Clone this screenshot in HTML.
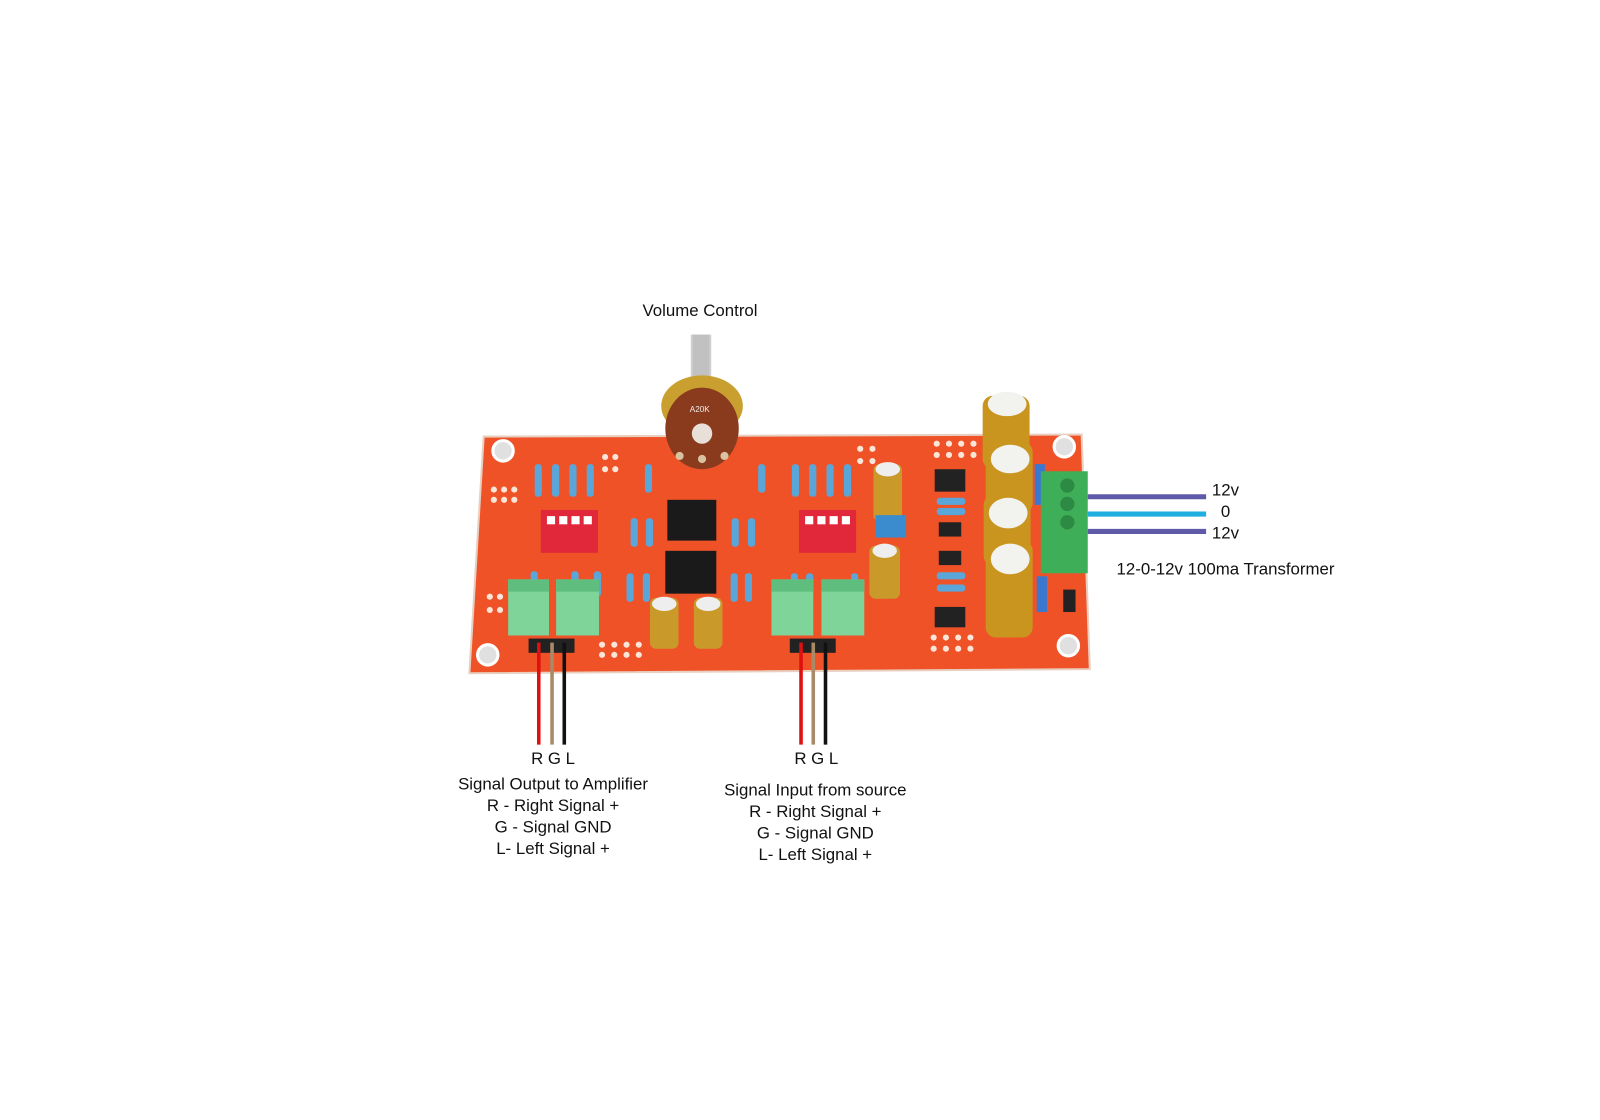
<!DOCTYPE html>
<html><head><meta charset="utf-8"><style>
html,body{margin:0;padding:0;background:#fff;}
svg{display:block;}
text{font-family:"Liberation Sans",sans-serif;fill:#111;}
</style></head><body>
<svg width="1600" height="1120" viewBox="0 0 1568 1098" preserveAspectRatio="none" xmlns="http://www.w3.org/2000/svg">
<rect width="1568" height="1098" fill="#fff"/>
<polygon points="474,428 1060,426 1068,656 460,660" fill="#f05228"/>
<polygon points="474,428 1060,426 1068,656 460,660" fill="none" stroke="#e8cfc0" stroke-width="2"/>
<g fill="#e0e0e0" stroke="#fff" stroke-width="3">
<circle cx="493" cy="442" r="10"/><circle cx="1043" cy="438" r="10"/>
<circle cx="478" cy="642" r="10"/><circle cx="1047" cy="633" r="10"/>
</g>
<g fill="#fbe5d8">
<circle cx="484" cy="480" r="3"/><circle cx="494" cy="480" r="3"/><circle cx="504" cy="480" r="3"/>
<circle cx="484" cy="490" r="3"/><circle cx="494" cy="490" r="3"/><circle cx="504" cy="490" r="3"/>
<circle cx="480" cy="585" r="3"/><circle cx="490" cy="585" r="3"/><circle cx="480" cy="598" r="3"/><circle cx="490" cy="598" r="3"/>
<circle cx="590" cy="632" r="3"/><circle cx="602" cy="632" r="3"/><circle cx="614" cy="632" r="3"/><circle cx="626" cy="632" r="3"/>
<circle cx="590" cy="642" r="3"/><circle cx="602" cy="642" r="3"/><circle cx="614" cy="642" r="3"/><circle cx="626" cy="642" r="3"/>
<circle cx="593" cy="448" r="3"/><circle cx="603" cy="448" r="3"/><circle cx="593" cy="460" r="3"/><circle cx="603" cy="460" r="3"/>
<circle cx="918" cy="435" r="3"/><circle cx="930" cy="435" r="3"/><circle cx="942" cy="435" r="3"/><circle cx="954" cy="435" r="3"/>
<circle cx="918" cy="446" r="3"/><circle cx="930" cy="446" r="3"/><circle cx="942" cy="446" r="3"/><circle cx="954" cy="446" r="3"/>
<circle cx="915" cy="625" r="3"/><circle cx="927" cy="625" r="3"/><circle cx="939" cy="625" r="3"/><circle cx="951" cy="625" r="3"/>
<circle cx="915" cy="636" r="3"/><circle cx="927" cy="636" r="3"/><circle cx="939" cy="636" r="3"/><circle cx="951" cy="636" r="3"/>
<circle cx="843" cy="440" r="3"/><circle cx="855" cy="440" r="3"/><circle cx="843" cy="452" r="3"/><circle cx="855" cy="452" r="3"/>
</g>
<g fill="#5aa6d8">
<rect x="524" y="455" width="7" height="32" rx="3"/><rect x="541" y="455" width="7" height="32" rx="3"/><rect x="558" y="455" width="7" height="32" rx="3"/><rect x="575" y="455" width="7" height="32" rx="3"/>
<rect x="776" y="455" width="7" height="32" rx="3"/><rect x="793" y="455" width="7" height="32" rx="3"/><rect x="810" y="455" width="7" height="32" rx="3"/><rect x="827" y="455" width="7" height="32" rx="3"/>
<rect x="632" y="455" width="7" height="28" rx="3"/><rect x="743" y="455" width="7" height="28" rx="3"/>
<rect x="618" y="508" width="7" height="28" rx="3"/><rect x="633" y="508" width="7" height="28" rx="3"/><rect x="717" y="508" width="7" height="28" rx="3"/><rect x="733" y="508" width="7" height="28" rx="3"/>
<rect x="614" y="562" width="7" height="28" rx="3"/><rect x="630" y="562" width="7" height="28" rx="3"/><rect x="716" y="562" width="7" height="28" rx="3"/><rect x="730" y="562" width="7" height="28" rx="3"/>
<rect x="520" y="560" width="7" height="25" rx="3"/><rect x="560" y="560" width="7" height="25" rx="3"/><rect x="582" y="560" width="7" height="25" rx="3"/>
<rect x="775" y="562" width="7" height="25" rx="3"/><rect x="790" y="562" width="7" height="25" rx="3"/><rect x="834" y="562" width="7" height="25" rx="3"/>
<rect x="918" y="488" width="28" height="7" rx="3"/><rect x="918" y="498" width="28" height="7" rx="3"/>
<rect x="918" y="561" width="28" height="7" rx="3"/><rect x="918" y="573" width="28" height="7" rx="3"/>
</g>
<rect x="530" y="500" width="56" height="42" fill="#e0283a"/>
<rect x="783" y="500" width="56" height="42" fill="#e0283a"/>
<g fill="#fff"><rect x="536" y="506" width="8" height="8"/><rect x="548" y="506" width="8" height="8"/><rect x="560" y="506" width="8" height="8"/><rect x="572" y="506" width="8" height="8"/>
<rect x="789" y="506" width="8" height="8"/><rect x="801" y="506" width="8" height="8"/><rect x="813" y="506" width="8" height="8"/><rect x="825" y="506" width="8" height="8"/></g>
<rect x="654" y="490" width="48" height="40" fill="#1a1a1a"/>
<rect x="652" y="540" width="50" height="42" fill="#1a1a1a"/>
<g fill="#c99a2a"><rect x="637" y="586" width="28" height="50" rx="6"/><rect x="680" y="586" width="28" height="50" rx="6"/>
<rect x="856" y="455" width="28" height="56" rx="6"/><rect x="852" y="535" width="30" height="52" rx="6"/></g>
<g fill="#eee"><ellipse cx="651" cy="592" rx="12" ry="7"/><ellipse cx="694" cy="592" rx="12" ry="7"/><ellipse cx="870" cy="460" rx="12" ry="7"/><ellipse cx="867" cy="540" rx="12" ry="7"/></g>
<rect x="858" y="505" width="30" height="22" fill="#3a8ccf"/>
<g fill="#222"><rect x="916" y="460" width="30" height="22"/><rect x="920" y="512" width="22" height="14"/><rect x="920" y="540" width="22" height="14"/><rect x="916" y="595" width="30" height="20"/></g>
<g fill="#c9951f"><rect x="963" y="388" width="46" height="72" rx="10"/><rect x="966" y="433" width="46" height="70" rx="10"/><rect x="964" y="485" width="46" height="70" rx="10"/><rect x="966" y="530" width="46" height="95" rx="10"/></g>
<g fill="#f2f2ee"><ellipse cx="987" cy="396" rx="19" ry="12"/><ellipse cx="990" cy="450" rx="19" ry="14"/><ellipse cx="988" cy="503" rx="19" ry="15"/><ellipse cx="990" cy="548" rx="19" ry="15"/></g>
<rect x="1014" y="455" width="10" height="40" fill="#3a78d0"/><rect x="1016" y="565" width="10" height="35" fill="#3a78d0"/>
<rect x="1020" y="462" width="46" height="100" fill="#3fae58"/>
<g fill="#2d8a44"><circle cx="1046" cy="476" r="7"/><circle cx="1046" cy="494" r="7"/><circle cx="1046" cy="512" r="7"/></g>
<rect x="1042" y="578" width="12" height="22" fill="#222"/>
<g fill="#7fd49a"><rect x="498" y="568" width="40" height="55"/><rect x="545" y="568" width="42" height="55"/><rect x="756" y="568" width="41" height="55"/><rect x="805" y="568" width="42" height="55"/></g>
<g fill="#5fbe7e"><rect x="498" y="568" width="40" height="12"/><rect x="545" y="568" width="42" height="12"/><rect x="756" y="568" width="41" height="12"/><rect x="805" y="568" width="42" height="12"/></g>
<rect x="518" y="626" width="45" height="14" fill="#222"/><rect x="774" y="626" width="45" height="14" fill="#222"/>
<rect x="677" y="328" width="20" height="48" fill="#cfcfcf"/>
<rect x="679" y="328" width="16" height="48" fill="#b7b7b7" opacity=".6"/>
<ellipse cx="688" cy="398" rx="40" ry="30" fill="#c9a030"/>
<ellipse cx="688" cy="420" rx="36" ry="40" fill="#8a3b1e"/>
<circle cx="688" cy="425" r="10" fill="#e8e0d8"/>
<g fill="#d9c2a0"><circle cx="666" cy="447" r="4"/><circle cx="688" cy="450" r="4"/><circle cx="710" cy="447" r="4"/></g>
<text x="676" y="404" font-size="8" style="fill:#eee">A20K</text>
<g stroke-width="3.5">
<line x1="528" y1="630" x2="528" y2="730" stroke="#e01010"/>
<line x1="541" y1="630" x2="541" y2="730" stroke="#a88a68"/>
<line x1="553" y1="630" x2="553" y2="730" stroke="#111"/>
<line x1="785" y1="630" x2="785" y2="730" stroke="#e01010"/>
<line x1="797" y1="630" x2="797" y2="730" stroke="#a88a68"/>
<line x1="809" y1="630" x2="809" y2="730" stroke="#111"/>
</g>
<g stroke-width="5">
<line x1="1066" y1="487" x2="1182" y2="487" stroke="#5e5aa8"/>
<line x1="1066" y1="504" x2="1182" y2="504" stroke="#1eaee0"/>
<line x1="1066" y1="521" x2="1182" y2="521" stroke="#5e5aa8"/>
</g>
<g font-size="16.5">
<text x="686" y="310" text-anchor="middle">Volume Control</text>
<text x="1201" y="486" text-anchor="middle">12v</text>
<text x="1201" y="507" text-anchor="middle">0</text>
<text x="1201" y="528" text-anchor="middle">12v</text>
<text x="1201" y="563" text-anchor="middle">12-0-12v 100ma Transformer</text>
<text x="542" y="749" text-anchor="middle">R G L</text>
<text x="542" y="774" text-anchor="middle">Signal Output to Amplifier</text>
<text x="542" y="795" text-anchor="middle">R - Right Signal +</text>
<text x="542" y="816" text-anchor="middle">G - Signal GND</text>
<text x="542" y="837" text-anchor="middle">L- Left Signal  +</text>
<text x="800" y="749" text-anchor="middle">R G L</text>
<text x="799" y="780" text-anchor="middle">Signal Input from source</text>
<text x="799" y="801" text-anchor="middle">R - Right Signal +</text>
<text x="799" y="822" text-anchor="middle">G - Signal GND</text>
<text x="799" y="843" text-anchor="middle">L- Left Signal  +</text>
</g>
</svg>
</body></html>
